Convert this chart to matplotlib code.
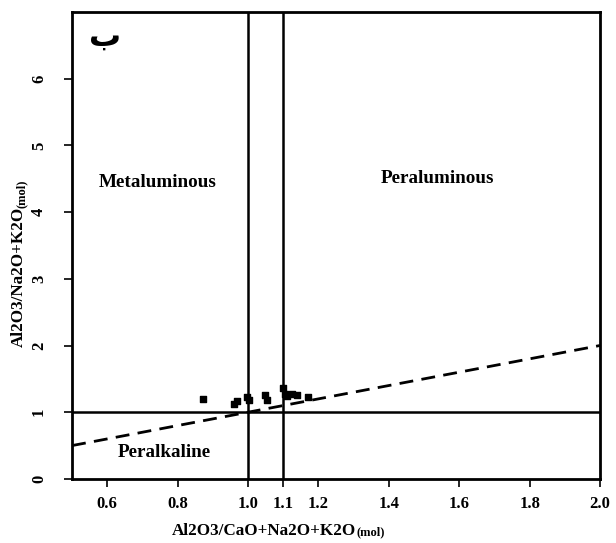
import matplotlib
matplotlib.use("Agg")
import matplotlib.pyplot as plt
import numpy as np

# data
x_vals = [0.873, 0.961, 0.970, 0.998, 1.004, 1.047, 1.055, 1.098, 1.104, 1.112, 1.126, 1.138, 1.169]
y_vals = [1.20, 1.12, 1.17, 1.23, 1.18, 1.26, 1.18, 1.36, 1.27, 1.24, 1.27, 1.26, 1.23]
boundary_x = [0.5, 2.0]
boundary_y = [0.5, 2.0]
x_ticks = [0.6, 0.8, 1.0, 1.1, 1.2, 1.4, 1.6, 1.8, 2.0]
x_tick_labels = ["0.6", "0.8", "1.0", "1.1", "1.2", "1.4", "1.6", "1.8", "2.0"]
y_ticks = [0, 1, 2, 3, 4, 5, 6]
y_tick_labels = ["0", "1", "2", "3", "4", "5", "6"]
region_labels = ["Metaluminous", "Peraluminous", "Peralkaline"]

serif = "Liberation Serif"

fig = plt.figure(figsize=(6.16, 5.43), dpi=100)
ax = fig.add_axes([0.117, 0.118, 0.857, 0.860])
ax.set_xlim(0.5, 2.0)
ax.set_ylim(0, 7)

ax.axhline(1.0, color="black", lw=1.8)
ax.axvline(1.0, color="black", lw=1.8)
ax.axvline(1.1, color="black", lw=1.8)
ax.plot(boundary_x, boundary_y, color="black", lw=2.0, ls=(0, (5, 3)))
ax.scatter(x_vals, y_vals, marker="s", s=18, color="black", zorder=5)

ax.text(0.742, 4.45, region_labels[0], fontsize=13.8, fontweight="bold", family=serif, ha="center", va="center")
ax.text(1.539, 4.50, region_labels[1], fontsize=13.8, fontweight="bold", family=serif, ha="center", va="center")
ax.text(0.762, 0.40, region_labels[2], fontsize=13.8, fontweight="bold", family=serif, ha="center", va="center")
ax.text(0.595, 6.62, "ب", fontsize=23, fontweight="bold", family="DejaVu Sans", ha="center", va="center")

for s in ax.spines.values():
    s.set_linewidth(2.0)

ax.set_xticks(x_ticks)
ax.set_xticklabels(x_tick_labels, fontsize=12, fontweight="bold", family=serif)
ax.set_yticks(y_ticks)
ax.set_yticklabels(y_tick_labels, fontsize=12, fontweight="bold", family=serif, rotation=90, va="center")
ax.tick_params(direction="out", length=6, width=1.2)
ax.tick_params(axis="x", pad=6)
ax.tick_params(axis="y", pad=12)

# x label
fig.text(0.429, 0.022, "Al2O3/CaO+Na2O+K2O", fontsize=12.3, fontweight="bold", family=serif, ha="center", va="center")
fig.text(0.578, 0.019, "(mol)", fontsize=9, fontweight="bold", family=serif, ha="left", va="center")
# y label
fig.text(0.031, 0.49, "Al2O3/Na2O+K2O", fontsize=12.3, fontweight="bold", family=serif, ha="center", va="center", rotation=90)
fig.text(0.035, 0.617, "(mol)", fontsize=9, fontweight="bold", family=serif, ha="center", va="bottom", rotation=90)

fig.savefig("out.png", dpi=100)
